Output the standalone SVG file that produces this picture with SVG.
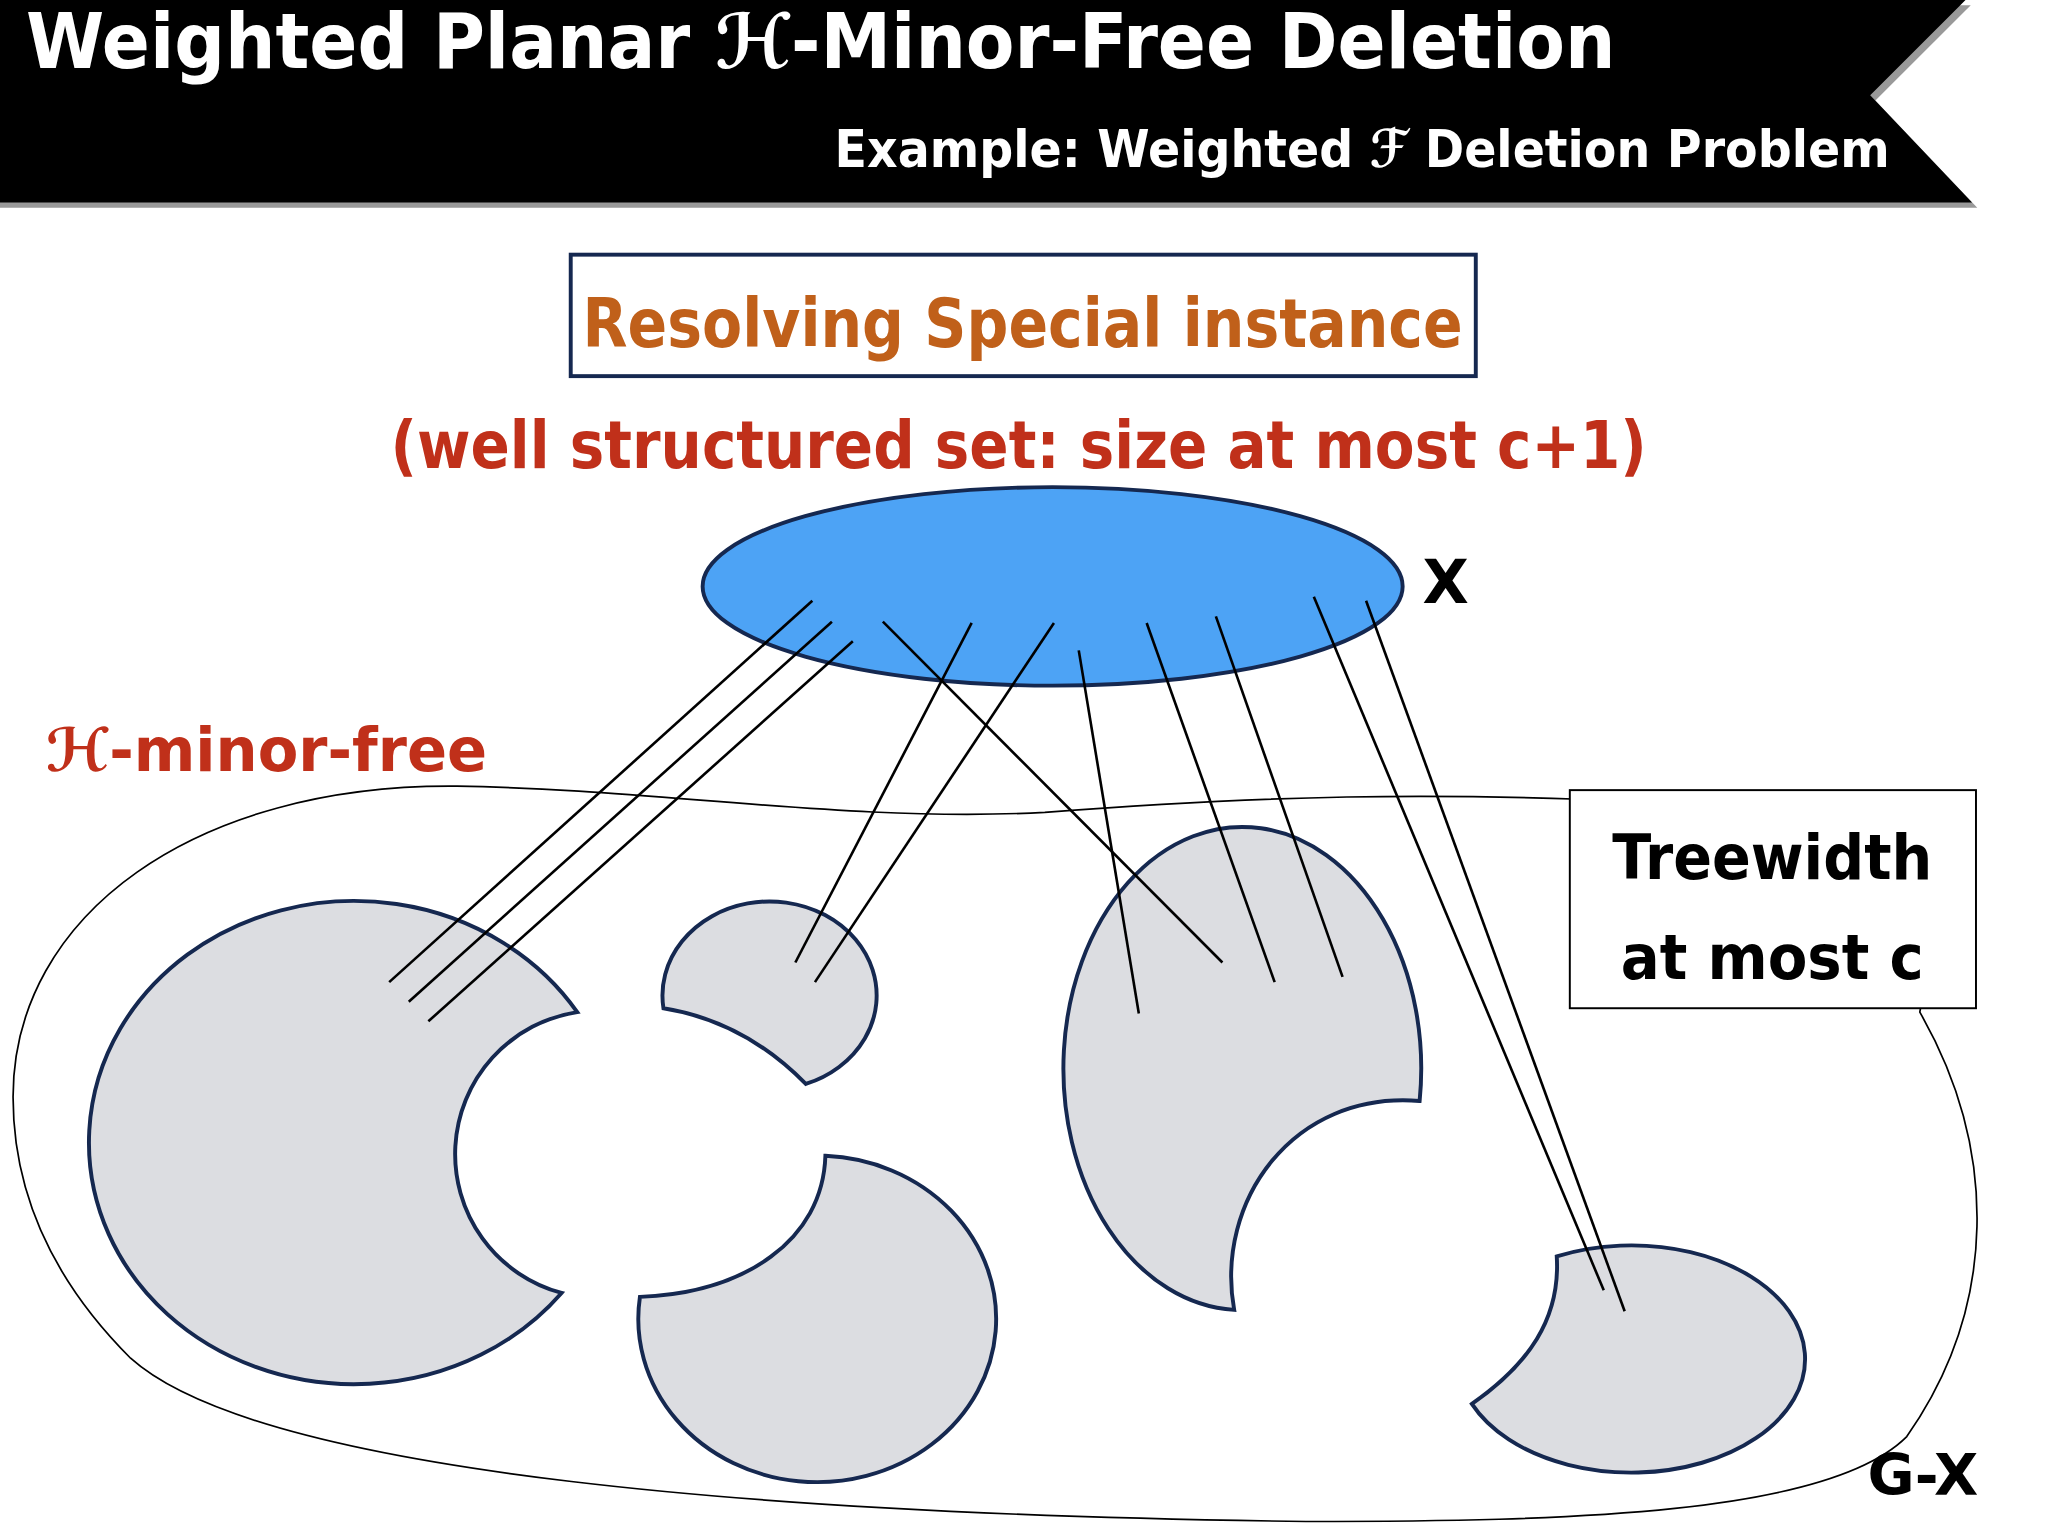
<svg xmlns="http://www.w3.org/2000/svg" width="2048" height="1536" viewBox="0 0 2048 1536">
<style>
.t{font-family:"DejaVu Sans",sans-serif;font-weight:bold}
.blob{fill:#DCDDE1;stroke:#152850;stroke-width:3}
.ln{stroke:#000;stroke-width:2;fill:none}
</style>
<rect width="2048" height="1536" fill="#fff"/>
<g transform="scale(1.306)">
<g id="banner">
<polygon points="0,4 1509,4 1436,77 1514,159 0,159" fill="#999"/>
<polygon points="0,0 1505,0 1432,73 1510,155 0,155" fill="#000"/>
<text class="t" x="20" y="52" font-size="58" fill="#fff" textLength="1217" lengthAdjust="spacingAndGlyphs">Weighted Planar ℋ-Minor-Free Deletion</text>
<text class="t" x="1447" y="128" font-size="40" fill="#fff" text-anchor="end" textLength="808" lengthAdjust="spacingAndGlyphs">Example: Weighted ℱ Deletion Problem</text>
</g>
<g id="gx">
<path d="M10,840 C10,700 150,600 350,602 C500,604 650,630 800,622 C980,608 1100,608 1210,612 L1500,612 L1470,775 C1530,880 1530,1000 1460,1100 C1400,1160 1200,1165 1000,1165 C600,1160 200,1130 100,1040 C30,970 10,900 10,840 Z" fill="none" stroke="#000" stroke-width="1.3"/>
<text class="t" x="1430" y="1145" font-size="44" fill="#000">G-X</text>
</g>
<g id="tw">
<rect x="1202" y="605" width="311" height="167" fill="#fff" stroke="#000" stroke-width="1.5"/>
<text class="t" x="1357" y="673" font-size="48" text-anchor="middle" textLength="245" lengthAdjust="spacingAndGlyphs">Treewidth</text>
<text class="t" x="1357" y="750" font-size="48" text-anchor="middle" textLength="232" lengthAdjust="spacingAndGlyphs">at most c</text>
</g>
<g id="title2">
<rect x="437" y="195" width="693" height="93" fill="#fff" stroke="#152850" stroke-width="3"/>
<text class="t" x="783" y="266" font-size="52" fill="#C0601A" text-anchor="middle" textLength="674" lengthAdjust="spacingAndGlyphs">Resolving Special instance</text>
</g>
<text class="t" x="780" y="358" font-size="50" fill="#C0301A" text-anchor="middle" textLength="962" lengthAdjust="spacingAndGlyphs">(well structured set: size at most c+1)</text>
<text class="t" x="35" y="590" font-size="46" fill="#C0301A" textLength="338" lengthAdjust="spacingAndGlyphs">ℋ-minor-free</text>
<g id="shapes">
<path class="blob" d="M442,775 A203,185 0 1 0 430,990 A110,110 0 0 1 442,775 Z"/>
<path class="blob" d="M508,772 A82,72 0 1 1 617,830 Q570,782 508,772 Z"/>
<path class="blob" d="M632,885 A137,125 0 1 1 490,993 C570,990 630,950 632,885 Z"/>
<path class="blob" d="M1087,843 A137,185 0 1 0 945,1003 C930,920 990,835 1087,843 Z"/>
<path class="blob" d="M1192,962 A133,87 0 1 1 1127,1075 C1170,1045 1195,1010 1192,962 Z"/>
</g>
<g id="X">
<ellipse cx="806" cy="449" rx="268" ry="76" fill="#4DA3F5" stroke="#152850" stroke-width="3"/>
<text class="t" x="1107" y="462" font-size="46" text-anchor="middle">X</text>
</g>
<g id="connectors">
<line class="ln" x1="622" y1="460" x2="298" y2="752"/>
<line class="ln" x1="637" y1="476" x2="313" y2="767"/>
<line class="ln" x1="653" y1="491" x2="328" y2="782"/>
<line class="ln" x1="744" y1="477" x2="609" y2="737"/>
<line class="ln" x1="807" y1="477" x2="624" y2="752"/>
<line class="ln" x1="676" y1="476" x2="936" y2="737"/>
<line class="ln" x1="826" y1="498" x2="872" y2="776"/>
<line class="ln" x1="878" y1="477" x2="976" y2="752"/>
<line class="ln" x1="931" y1="472" x2="1028" y2="748"/>
<line class="ln" x1="1006" y1="457" x2="1228" y2="988"/>
<line class="ln" x1="1046" y1="460" x2="1244" y2="1004"/>
</g>
</g>
</svg>
